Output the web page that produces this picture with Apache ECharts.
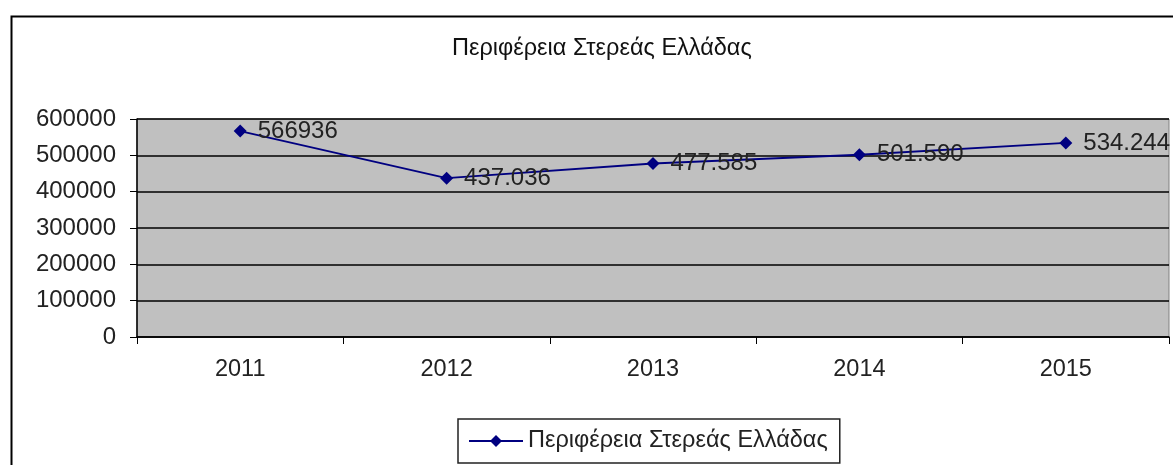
<!DOCTYPE html>
<html><head><meta charset="utf-8">
<script src="https://cdn.jsdelivr.net/npm/echarts@6/dist/echarts.min.js"></script>
<style>html,body{margin:0;padding:0;background:#fff}#c{width:1173px;height:465px}</style>
</head><body><div id="c"></div>
<script>
const titleText = 'Περιφέρεια Στερεάς Ελλάδας';
const seriesName = 'Περιφέρεια Στερεάς Ελλάδας';
const categories = ['2011', '2012', '2013', '2014', '2015'];
const values = [566936, 437036, 477585, 501590, 534244];
const pointLabels = ['566936', '437.036', '477.585', '501.590', '534.244'];
const yTicks = [0, 100000, 200000, 300000, 400000, 500000, 600000];

const chart = echarts.init(document.getElementById('c'));
const font = 'Liberation Sans, Arial, sans-serif';
chart.setOption({
  backgroundColor: '#fff',
  animation: false,
  graphic: [{
    type: 'rect', left: 9, top: 14, z: -10,
    shape: { width: 1200, height: 500 },
    style: { fill: 'none', stroke: '#000', lineWidth: 2 }
  }],
  title: {
    text: titleText, left: 447, top: 32,
    textStyle: { fontFamily: font, fontSize: 23.5, fontWeight: 'normal', color: '#111' }
  },
  legend: {
    data: [seriesName], bottom: 2, left: 458,
    borderColor: '#222', borderWidth: 1.5, padding: [10, 12, 10, 10],
    itemWidth: 54, itemHeight: 15, itemGap: 6,
    textStyle: { fontFamily: font, fontSize: 23.5, color: '#222' }
  },
  grid: {
    left: 137, top: 119, right: 4, bottom: 128, containLabel: false,
    show: true, backgroundColor: '#c0c0c0', borderColor: '#808080', borderWidth: 1
  },
  xAxis: {
    type: 'category', data: categories, boundaryGap: true,
    axisLine: { lineStyle: { color: '#000', width: 1.5 } },
    axisTick: { show: true, alignWithLabel: false, length: 7, lineStyle: { color: '#000' } },
    axisLabel: { margin: 21, fontFamily: font, fontSize: 23.5, color: '#222' },
    splitLine: { show: false }
  },
  yAxis: {
    type: 'value', min: 0, max: 600000, interval: 100000,
    axisLine: { show: true, lineStyle: { color: '#000', width: 1.5 } },
    axisTick: { show: true, length: 7, lineStyle: { color: '#000' } },
    axisLabel: { margin: 21, fontFamily: font, fontSize: 24, color: '#222',
      formatter: v => yTicks.includes(v) ? String(v) : '' },
    splitLine: { show: true, lineStyle: { color: '#000', width: 1.5 } }
  },
  series: [{
    name: seriesName, type: 'line', data: values,
    symbol: 'diamond', symbolSize: 13,
    itemStyle: { color: '#000080' },
    lineStyle: { color: '#000080', width: 1.8 },
    label: {
      show: true, position: 'right', distance: 11,
      fontFamily: font, fontSize: 24, color: '#222',
      formatter: p => pointLabels[p.dataIndex]
    }
  }]
});
</script></body></html>
